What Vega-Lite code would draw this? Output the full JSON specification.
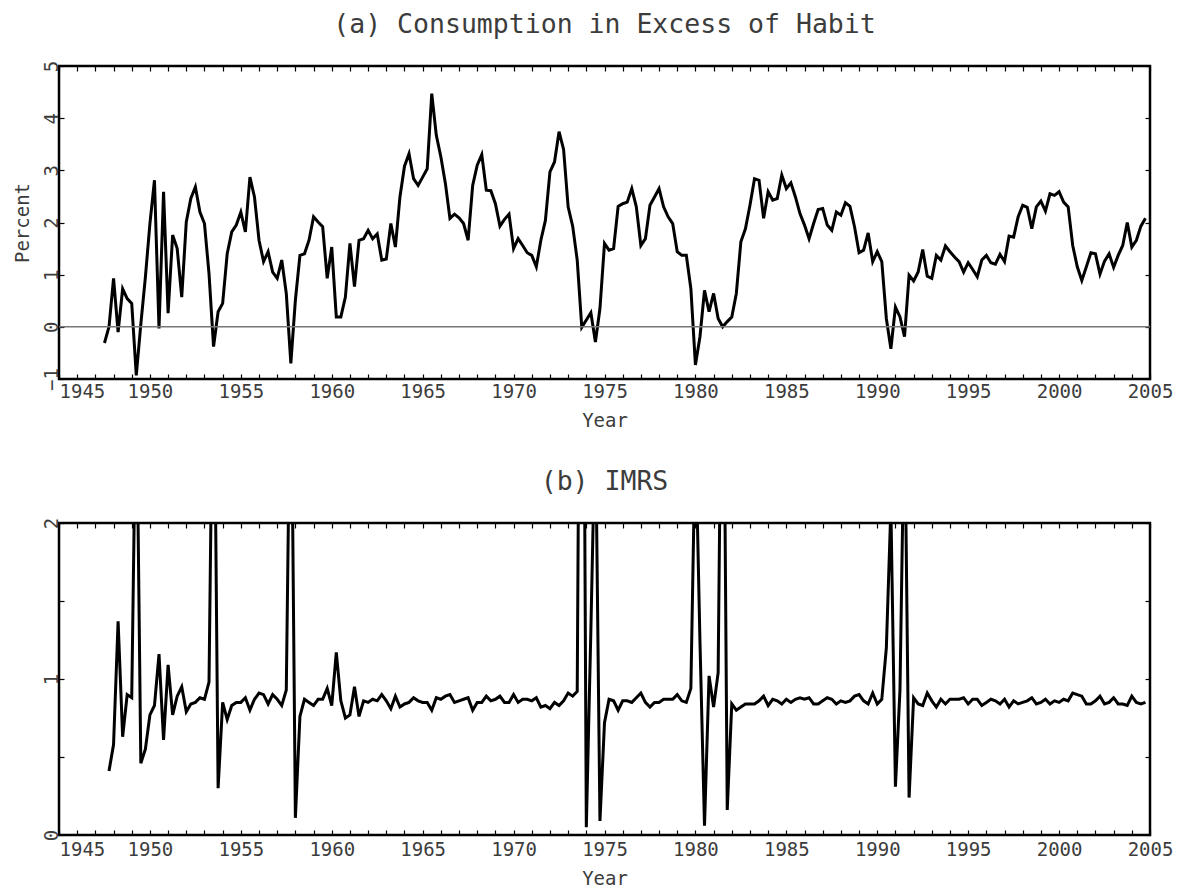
{
  "$schema": "https://vega.github.io/schema/vega-lite/v6.json",
  "padding": {"left": 11, "top": 10, "right": 5, "bottom": 0},
  "background": "white",
  "spacing": 35,
  "config": {
    "view": {"stroke": "black", "strokeWidth": 2.5},
    "font": "DejaVu Sans Mono",
    "axis": {"grid": false, "domain": false, "tickColor": "black", "tickWidth": 1.2, "tickSize": -5,
      "labelFont": "DejaVu Sans Mono", "labelFontSize": 19, "labelColor": "#3c3c3c",
      "titleFont": "DejaVu Sans Mono", "titleFontSize": 19, "titleFontWeight": "normal", "titleColor": "#3c3c3c"},
    "title": {"font": "DejaVu Sans Mono", "fontSize": 26.5, "fontWeight": "normal", "color": "#3c3c3c", "frame": "group", "anchor": "middle"}
  },
  "datasets": {
    "habit": [
      {"t":1947.5,"v":-0.31},{"t":1947.75,"v":0.0},{"t":1948.0,"v":0.93},{"t":1948.25,"v":-0.1},{"t":1948.5,"v":0.73},{"t":1948.75,"v":0.54},{"t":1949.0,"v":0.45},{"t":1949.25,"v":-0.93},{"t":1949.5,"v":0.05},{"t":1949.75,"v":0.95},
      {"t":1950.0,"v":1.98},{"t":1950.25,"v":2.81},{"t":1950.5,"v":-0.03},{"t":1950.75,"v":2.59},{"t":1951.0,"v":0.26},{"t":1951.25,"v":1.76},{"t":1951.5,"v":1.5},{"t":1951.75,"v":0.57},{"t":1952.0,"v":2.01},{"t":1952.25,"v":2.46},
      {"t":1952.5,"v":2.68},{"t":1952.75,"v":2.2},{"t":1953.0,"v":1.98},{"t":1953.25,"v":1.02},{"t":1953.5,"v":-0.38},{"t":1953.75,"v":0.29},{"t":1954.0,"v":0.45},{"t":1954.25,"v":1.4},{"t":1954.5,"v":1.82},{"t":1954.75,"v":1.95},
      {"t":1955.0,"v":2.2},{"t":1955.25,"v":1.82},{"t":1955.5,"v":2.87},{"t":1955.75,"v":2.49},{"t":1956.0,"v":1.66},{"t":1956.25,"v":1.25},{"t":1956.5,"v":1.44},{"t":1956.75,"v":1.05},{"t":1957.0,"v":0.93},{"t":1957.25,"v":1.28},
      {"t":1957.5,"v":0.64},{"t":1957.75,"v":-0.7},{"t":1958.0,"v":0.51},{"t":1958.25,"v":1.37},{"t":1958.5,"v":1.4},{"t":1958.75,"v":1.66},{"t":1959.0,"v":2.11},{"t":1959.25,"v":2.01},{"t":1959.5,"v":1.92},{"t":1959.75,"v":0.93},
      {"t":1960.0,"v":1.53},{"t":1960.25,"v":0.19},{"t":1960.5,"v":0.19},{"t":1960.75,"v":0.57},{"t":1961.0,"v":1.6},{"t":1961.25,"v":0.77},{"t":1961.5,"v":1.66},{"t":1961.75,"v":1.69},{"t":1962.0,"v":1.85},{"t":1962.25,"v":1.69},
      {"t":1962.5,"v":1.78},{"t":1962.75,"v":1.28},{"t":1963.0,"v":1.3},{"t":1963.25,"v":1.98},{"t":1963.5,"v":1.53},{"t":1963.75,"v":2.49},{"t":1964.0,"v":3.08},{"t":1964.25,"v":3.32},{"t":1964.5,"v":2.84},{"t":1964.75,"v":2.71},
      {"t":1965.0,"v":2.87},{"t":1965.25,"v":3.03},{"t":1965.5,"v":4.47},{"t":1965.75,"v":3.67},{"t":1966.0,"v":3.26},{"t":1966.25,"v":2.75},{"t":1966.5,"v":2.08},{"t":1966.75,"v":2.16},{"t":1967.0,"v":2.09},{"t":1967.25,"v":1.98},
      {"t":1967.5,"v":1.66},{"t":1967.75,"v":2.71},{"t":1968.0,"v":3.1},{"t":1968.25,"v":3.3},{"t":1968.5,"v":2.62},{"t":1968.75,"v":2.61},{"t":1969.0,"v":2.36},{"t":1969.25,"v":1.93},{"t":1969.5,"v":2.06},{"t":1969.75,"v":2.16},
      {"t":1970.0,"v":1.5},{"t":1970.25,"v":1.69},{"t":1970.5,"v":1.56},{"t":1970.75,"v":1.42},{"t":1971.0,"v":1.37},{"t":1971.25,"v":1.15},{"t":1971.5,"v":1.66},{"t":1971.75,"v":2.04},{"t":1972.0,"v":2.97},{"t":1972.25,"v":3.16},
      {"t":1972.5,"v":3.74},{"t":1972.75,"v":3.4},{"t":1973.0,"v":2.3},{"t":1973.25,"v":1.93},{"t":1973.5,"v":1.28},{"t":1973.75,"v":-0.01},{"t":1974.0,"v":0.13},{"t":1974.25,"v":0.27},{"t":1974.5,"v":-0.29},{"t":1974.75,"v":0.35},
      {"t":1975.0,"v":1.6},{"t":1975.25,"v":1.47},{"t":1975.5,"v":1.5},{"t":1975.75,"v":2.31},{"t":1976.0,"v":2.36},{"t":1976.25,"v":2.39},{"t":1976.5,"v":2.65},{"t":1976.75,"v":2.3},{"t":1977.0,"v":1.56},{"t":1977.25,"v":1.69},
      {"t":1977.5,"v":2.33},{"t":1977.75,"v":2.49},{"t":1978.0,"v":2.65},{"t":1978.25,"v":2.3},{"t":1978.5,"v":2.11},{"t":1978.75,"v":1.98},{"t":1979.0,"v":1.44},{"t":1979.25,"v":1.37},{"t":1979.5,"v":1.37},{"t":1979.75,"v":0.73},
      {"t":1980.0,"v":-0.73},{"t":1980.25,"v":-0.19},{"t":1980.5,"v":0.7},{"t":1980.75,"v":0.29},{"t":1981.0,"v":0.64},{"t":1981.25,"v":0.16},{"t":1981.5,"v":0.0},{"t":1981.75,"v":0.1},{"t":1982.0,"v":0.19},{"t":1982.25,"v":0.64},
      {"t":1982.5,"v":1.63},{"t":1982.75,"v":1.88},{"t":1983.0,"v":2.33},{"t":1983.25,"v":2.84},{"t":1983.5,"v":2.81},{"t":1983.75,"v":2.08},{"t":1984.0,"v":2.59},{"t":1984.25,"v":2.43},{"t":1984.5,"v":2.46},{"t":1984.75,"v":2.91},
      {"t":1985.0,"v":2.65},{"t":1985.25,"v":2.76},{"t":1985.5,"v":2.49},{"t":1985.75,"v":2.17},{"t":1986.0,"v":1.95},{"t":1986.25,"v":1.69},{"t":1986.5,"v":1.98},{"t":1986.75,"v":2.25},{"t":1987.0,"v":2.27},{"t":1987.25,"v":1.95},
      {"t":1987.5,"v":1.85},{"t":1987.75,"v":2.2},{"t":1988.0,"v":2.14},{"t":1988.25,"v":2.38},{"t":1988.5,"v":2.31},{"t":1988.75,"v":1.92},{"t":1989.0,"v":1.42},{"t":1989.25,"v":1.47},{"t":1989.5,"v":1.8},{"t":1989.75,"v":1.25},
      {"t":1990.0,"v":1.44},{"t":1990.25,"v":1.25},{"t":1990.5,"v":0.16},{"t":1990.75,"v":-0.42},{"t":1991.0,"v":0.38},{"t":1991.25,"v":0.19},{"t":1991.5,"v":-0.19},{"t":1991.75,"v":0.99},{"t":1992.0,"v":0.88},{"t":1992.25,"v":1.05},
      {"t":1992.5,"v":1.48},{"t":1992.75,"v":0.97},{"t":1993.0,"v":0.93},{"t":1993.25,"v":1.37},{"t":1993.5,"v":1.28},{"t":1993.75,"v":1.55},{"t":1994.0,"v":1.44},{"t":1994.25,"v":1.34},{"t":1994.5,"v":1.25},{"t":1994.75,"v":1.05},
      {"t":1995.0,"v":1.23},{"t":1995.25,"v":1.1},{"t":1995.5,"v":0.96},{"t":1995.75,"v":1.28},{"t":1996.0,"v":1.37},{"t":1996.25,"v":1.23},{"t":1996.5,"v":1.2},{"t":1996.75,"v":1.39},{"t":1997.0,"v":1.25},{"t":1997.25,"v":1.74},
      {"t":1997.5,"v":1.72},{"t":1997.75,"v":2.11},{"t":1998.0,"v":2.33},{"t":1998.25,"v":2.29},{"t":1998.5,"v":1.88},{"t":1998.75,"v":2.3},{"t":1999.0,"v":2.41},{"t":1999.25,"v":2.22},{"t":1999.5,"v":2.55},{"t":1999.75,"v":2.52},
      {"t":2000.0,"v":2.59},{"t":2000.25,"v":2.39},{"t":2000.5,"v":2.3},{"t":2000.75,"v":1.56},{"t":2001.0,"v":1.15},{"t":2001.25,"v":0.89},{"t":2001.5,"v":1.15},{"t":2001.75,"v":1.42},{"t":2002.0,"v":1.4},{"t":2002.25,"v":1.01},
      {"t":2002.5,"v":1.26},{"t":2002.75,"v":1.4},{"t":2003.0,"v":1.14},{"t":2003.25,"v":1.37},{"t":2003.5,"v":1.56},{"t":2003.75,"v":2.0},{"t":2004.0,"v":1.53},{"t":2004.25,"v":1.66},{"t":2004.5,"v":1.93},{"t":2004.75,"v":2.08}
    ],
    "imrs": [
      {"t":1947.75,"v":0.41},{"t":1948.0,"v":0.58},{"t":1948.25,"v":1.37},{"t":1948.5,"v":0.63},{"t":1948.75,"v":0.9},{"t":1949.0,"v":0.88},{"t":1949.25,"v":3.0},{"t":1949.5,"v":0.46},{"t":1949.75,"v":0.55},
      {"t":1950.0,"v":0.77},{"t":1950.25,"v":0.83},{"t":1950.5,"v":1.16},{"t":1950.75,"v":0.61},{"t":1951.0,"v":1.09},{"t":1951.25,"v":0.77},{"t":1951.5,"v":0.89},{"t":1951.75,"v":0.95},{"t":1952.0,"v":0.79},{"t":1952.25,"v":0.84},
      {"t":1952.5,"v":0.85},{"t":1952.75,"v":0.88},{"t":1953.0,"v":0.87},{"t":1953.25,"v":0.98},{"t":1953.5,"v":3.5},{"t":1953.75,"v":0.3},{"t":1954.0,"v":0.85},{"t":1954.25,"v":0.74},{"t":1954.5,"v":0.83},{"t":1954.75,"v":0.85},
      {"t":1955.0,"v":0.85},{"t":1955.25,"v":0.88},{"t":1955.5,"v":0.8},{"t":1955.75,"v":0.87},{"t":1956.0,"v":0.91},{"t":1956.25,"v":0.9},{"t":1956.5,"v":0.84},{"t":1956.75,"v":0.9},{"t":1957.0,"v":0.87},{"t":1957.25,"v":0.83},
      {"t":1957.5,"v":0.93},{"t":1957.75,"v":3.3},{"t":1958.0,"v":0.11},{"t":1958.25,"v":0.76},{"t":1958.5,"v":0.87},{"t":1958.75,"v":0.85},{"t":1959.0,"v":0.83},{"t":1959.25,"v":0.87},{"t":1959.5,"v":0.87},{"t":1959.75,"v":0.94},
      {"t":1960.0,"v":0.83},{"t":1960.25,"v":1.17},{"t":1960.5,"v":0.86},{"t":1960.75,"v":0.75},{"t":1961.0,"v":0.77},{"t":1961.25,"v":0.95},{"t":1961.5,"v":0.76},{"t":1961.75,"v":0.86},{"t":1962.0,"v":0.85},{"t":1962.25,"v":0.87},
      {"t":1962.5,"v":0.86},{"t":1962.75,"v":0.9},{"t":1963.0,"v":0.86},{"t":1963.25,"v":0.81},{"t":1963.5,"v":0.89},{"t":1963.75,"v":0.82},{"t":1964.0,"v":0.84},{"t":1964.25,"v":0.85},{"t":1964.5,"v":0.88},{"t":1964.75,"v":0.86},
      {"t":1965.0,"v":0.85},{"t":1965.25,"v":0.85},{"t":1965.5,"v":0.8},{"t":1965.75,"v":0.88},{"t":1966.0,"v":0.87},{"t":1966.25,"v":0.89},{"t":1966.5,"v":0.9},{"t":1966.75,"v":0.85},{"t":1967.0,"v":0.86},{"t":1967.25,"v":0.87},
      {"t":1967.5,"v":0.88},{"t":1967.75,"v":0.8},{"t":1968.0,"v":0.85},{"t":1968.25,"v":0.85},{"t":1968.5,"v":0.89},{"t":1968.75,"v":0.86},{"t":1969.0,"v":0.87},{"t":1969.25,"v":0.89},{"t":1969.5,"v":0.85},{"t":1969.75,"v":0.85},
      {"t":1970.0,"v":0.9},{"t":1970.25,"v":0.85},{"t":1970.5,"v":0.87},{"t":1970.75,"v":0.87},{"t":1971.0,"v":0.86},{"t":1971.25,"v":0.88},{"t":1971.5,"v":0.82},{"t":1971.75,"v":0.83},{"t":1972.0,"v":0.81},{"t":1972.25,"v":0.85},
      {"t":1972.5,"v":0.83},{"t":1972.75,"v":0.86},{"t":1973.0,"v":0.91},{"t":1973.25,"v":0.89},{"t":1973.5,"v":0.92},{"t":1973.75,"v":5.8},{"t":1974.0,"v":0.05},{"t":1974.25,"v":1.31},{"t":1974.5,"v":2.7},{"t":1974.75,"v":0.09},
      {"t":1975.0,"v":0.72},{"t":1975.25,"v":0.87},{"t":1975.5,"v":0.86},{"t":1975.75,"v":0.8},{"t":1976.0,"v":0.86},{"t":1976.25,"v":0.86},{"t":1976.5,"v":0.85},{"t":1976.75,"v":0.88},{"t":1977.0,"v":0.91},{"t":1977.25,"v":0.85},
      {"t":1977.5,"v":0.82},{"t":1977.75,"v":0.85},{"t":1978.0,"v":0.85},{"t":1978.25,"v":0.87},{"t":1978.5,"v":0.87},{"t":1978.75,"v":0.87},{"t":1979.0,"v":0.9},{"t":1979.25,"v":0.86},{"t":1979.5,"v":0.85},{"t":1979.75,"v":0.94},
      {"t":1980.0,"v":2.6},{"t":1980.25,"v":1.24},{"t":1980.5,"v":0.06},{"t":1980.75,"v":1.02},{"t":1981.0,"v":0.82},{"t":1981.25,"v":1.04},{"t":1981.5,"v":4.0},{"t":1981.75,"v":0.16},{"t":1982.0,"v":0.84},{"t":1982.25,"v":0.8},
      {"t":1982.5,"v":0.82},{"t":1982.75,"v":0.84},{"t":1983.0,"v":0.84},{"t":1983.25,"v":0.84},{"t":1983.5,"v":0.86},{"t":1983.75,"v":0.89},{"t":1984.0,"v":0.83},{"t":1984.25,"v":0.87},{"t":1984.5,"v":0.86},{"t":1984.75,"v":0.84},
      {"t":1985.0,"v":0.87},{"t":1985.25,"v":0.85},{"t":1985.5,"v":0.87},{"t":1985.75,"v":0.88},{"t":1986.0,"v":0.87},{"t":1986.25,"v":0.88},{"t":1986.5,"v":0.84},{"t":1986.75,"v":0.84},{"t":1987.0,"v":0.86},{"t":1987.25,"v":0.88},
      {"t":1987.5,"v":0.87},{"t":1987.75,"v":0.84},{"t":1988.0,"v":0.86},{"t":1988.25,"v":0.85},{"t":1988.5,"v":0.86},{"t":1988.75,"v":0.89},{"t":1989.0,"v":0.9},{"t":1989.25,"v":0.86},{"t":1989.5,"v":0.84},{"t":1989.75,"v":0.91},
      {"t":1990.0,"v":0.84},{"t":1990.25,"v":0.87},{"t":1990.5,"v":1.2},{"t":1990.75,"v":2.1},{"t":1991.0,"v":0.31},{"t":1991.25,"v":0.93},{"t":1991.5,"v":2.8},{"t":1991.75,"v":0.24},{"t":1992.0,"v":0.88},{"t":1992.25,"v":0.84},
      {"t":1992.5,"v":0.83},{"t":1992.75,"v":0.91},{"t":1993.0,"v":0.86},{"t":1993.25,"v":0.82},{"t":1993.5,"v":0.87},{"t":1993.75,"v":0.84},{"t":1994.0,"v":0.87},{"t":1994.25,"v":0.87},{"t":1994.5,"v":0.87},{"t":1994.75,"v":0.88},
      {"t":1995.0,"v":0.84},{"t":1995.25,"v":0.87},{"t":1995.5,"v":0.87},{"t":1995.75,"v":0.83},{"t":1996.0,"v":0.85},{"t":1996.25,"v":0.87},{"t":1996.5,"v":0.86},{"t":1996.75,"v":0.84},{"t":1997.0,"v":0.87},{"t":1997.25,"v":0.82},
      {"t":1997.5,"v":0.86},{"t":1997.75,"v":0.84},{"t":1998.0,"v":0.85},{"t":1998.25,"v":0.86},{"t":1998.5,"v":0.88},{"t":1998.75,"v":0.84},{"t":1999.0,"v":0.85},{"t":1999.25,"v":0.87},{"t":1999.5,"v":0.84},{"t":1999.75,"v":0.86},
      {"t":2000.0,"v":0.85},{"t":2000.25,"v":0.87},{"t":2000.5,"v":0.86},{"t":2000.75,"v":0.91},{"t":2001.0,"v":0.9},{"t":2001.25,"v":0.89},{"t":2001.5,"v":0.84},{"t":2001.75,"v":0.84},{"t":2002.0,"v":0.86},{"t":2002.25,"v":0.89},
      {"t":2002.5,"v":0.84},{"t":2002.75,"v":0.85},{"t":2003.0,"v":0.88},{"t":2003.25,"v":0.84},{"t":2003.5,"v":0.84},{"t":2003.75,"v":0.83},{"t":2004.0,"v":0.89},{"t":2004.25,"v":0.85},{"t":2004.5,"v":0.84},{"t":2004.75,"v":0.85}
    ]
  },
  "vconcat": [
    {
      "title": {"text": "(a) Consumption in Excess of Habit", "offset": 1, "baseline": "alphabetic"},
      "width": 1091,
      "height": 313,
      "layer": [
        {
          "data": {"name": "habit"},
          "mark": {"type": "line", "color": "black", "strokeWidth": 3, "clip": true},
          "encoding": {
            "x": {"field": "t", "type": "quantitative",
              "scale": {"domain": [1945, 2005], "nice": false, "zero": false},
              "axis": {"orient": "bottom", "title": "Year", "labelOverlap": false,
                "values": [1945,1946,1947,1948,1949,1950,1951,1952,1953,1954,1955,1956,1957,1958,1959,1960,1961,1962,1963,1964,1965,1966,1967,1968,1969,1970,1971,1972,1973,1974,1975,1976,1977,1978,1979,1980,1981,1982,1983,1984,1985,1986,1987,1988,1989,1990,1991,1992,1993,1994,1995,1996,1997,1998,1999,2000,2001,2002,2003,2004,2005],
                "labelExpr": "datum.value % 5 == 0 ? format(datum.value, 'd') : ''",
                "labelAlign": {"condition": {"test": "datum.value == 1945", "value": "left"}, "value": "center"},
                "labelBaseline": "top", "labelPadding": 8, "titlePadding": 10, "titleBaseline": "top"}},
            "y": {"field": "v", "type": "quantitative",
              "scale": {"domain": [-1, 5], "nice": false, "zero": false},
              "axis": {"orient": "left", "title": "Percent", "values": [-1,0,1,2,3,4,5], "format": "d",
                "labelAngle": 270, "labelAlign": "center", "labelBaseline": "alphabetic", "labelPadding": 7,
                "titleAngle": 270, "titleBaseline": "alphabetic", "titlePadding": 14}}
          }
        },
        {
          "data": {"values": [{}]},
          "mark": {"type": "rule", "color": "#777777", "strokeWidth": 1.5},
          "encoding": {
            "x": {"datum": 1945, "type": "quantitative",
              "axis": {"orient": "top", "labels": false, "title": null,
                "values": [1945,1946,1947,1948,1949,1950,1951,1952,1953,1954,1955,1956,1957,1958,1959,1960,1961,1962,1963,1964,1965,1966,1967,1968,1969,1970,1971,1972,1973,1974,1975,1976,1977,1978,1979,1980,1981,1982,1983,1984,1985,1986,1987,1988,1989,1990,1991,1992,1993,1994,1995,1996,1997,1998,1999,2000,2001,2002,2003,2004,2005]}},
            "x2": {"datum": 2005},
            "y": {"datum": 0, "type": "quantitative",
              "axis": {"orient": "right", "labels": false, "title": null, "values": [-1,0,1,2,3,4,5]}}
          }
        }
      ],
      "resolve": {"axis": {"x": "independent", "y": "independent"}}
    },
    {
      "title": {"text": "(b) IMRS", "offset": 1, "baseline": "alphabetic"},
      "width": 1091,
      "height": 312,
      "layer": [
        {
          "data": {"name": "imrs"},
          "mark": {"type": "line", "color": "black", "strokeWidth": 3, "clip": true},
          "encoding": {
            "x": {"field": "t", "type": "quantitative",
              "scale": {"domain": [1945, 2005], "nice": false, "zero": false},
              "axis": {"orient": "bottom", "title": "Year", "labelOverlap": false,
                "values": [1945,1946,1947,1948,1949,1950,1951,1952,1953,1954,1955,1956,1957,1958,1959,1960,1961,1962,1963,1964,1965,1966,1967,1968,1969,1970,1971,1972,1973,1974,1975,1976,1977,1978,1979,1980,1981,1982,1983,1984,1985,1986,1987,1988,1989,1990,1991,1992,1993,1994,1995,1996,1997,1998,1999,2000,2001,2002,2003,2004,2005],
                "labelExpr": "datum.value % 5 == 0 ? format(datum.value, 'd') : ''",
                "labelAlign": {"condition": {"test": "datum.value == 1945", "value": "left"}, "value": "center"},
                "labelBaseline": "top", "labelPadding": 10, "titlePadding": 10, "titleBaseline": "top"}},
            "y": {"field": "v", "type": "quantitative",
              "scale": {"domain": [0, 2], "nice": false, "zero": false},
              "axis": {"orient": "left", "title": null, "values": [0,0.5,1,1.5,2],
                "labelExpr": "datum.value % 1 == 0 ? format(datum.value, 'd') : ''",
                "labelAngle": 270, "labelAlign": "center", "labelBaseline": "alphabetic", "labelPadding": 7}}
          }
        },
        {
          "data": {"values": [{}]},
          "mark": {"type": "rule", "color": "black", "strokeWidth": 1, "strokeOpacity": 0},
          "encoding": {
            "x": {"datum": 1945, "type": "quantitative",
              "axis": {"orient": "top", "labels": false, "title": null,
                "values": [1945,1946,1947,1948,1949,1950,1951,1952,1953,1954,1955,1956,1957,1958,1959,1960,1961,1962,1963,1964,1965,1966,1967,1968,1969,1970,1971,1972,1973,1974,1975,1976,1977,1978,1979,1980,1981,1982,1983,1984,1985,1986,1987,1988,1989,1990,1991,1992,1993,1994,1995,1996,1997,1998,1999,2000,2001,2002,2003,2004,2005]}},
            "x2": {"datum": 2005},
            "y": {"datum": 0, "type": "quantitative",
              "axis": {"orient": "right", "labels": false, "title": null, "values": [0,0.5,1,1.5,2]}}
          }
        }
      ],
      "resolve": {"axis": {"x": "independent", "y": "independent"}}
    }
  ]
}
